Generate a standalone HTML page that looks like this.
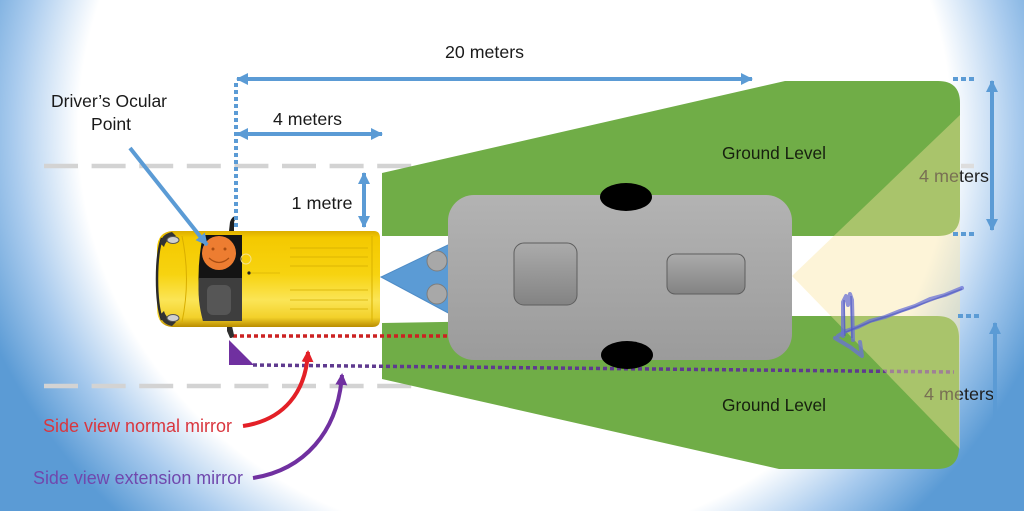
<!DOCTYPE html>
<html><head><meta charset="utf-8">
<style>
html,body{margin:0;padding:0;}
body{width:1024px;height:511px;overflow:hidden;background:radial-gradient(590px 560px at 515px 130px,#ffffff 74%,#a9cbee 85%,#5b9bd5 96%);}
svg{display:block;}
text{font-family:"Liberation Sans",sans-serif;}
</style></head><body>
<svg width="1024" height="511" viewBox="0 0 1024 511" xmlns="http://www.w3.org/2000/svg">
<defs>
<linearGradient id="tg" x1="0" y1="0" x2="0" y2="1">
<stop offset="0" stop-color="#b3b3b3"/><stop offset="1" stop-color="#9b9b9b"/>
</linearGradient>
<linearGradient id="wg" x1="0" y1="0" x2="0" y2="1">
<stop offset="0" stop-color="#ababab"/><stop offset="1" stop-color="#838383"/>
</linearGradient>
<linearGradient id="vy" x1="0" y1="0" x2="0" y2="1">
<stop offset="0" stop-color="#dcae00"/><stop offset="0.07" stop-color="#f4c900"/>
<stop offset="0.45" stop-color="#f7d310"/><stop offset="0.72" stop-color="#fbe556"/>
<stop offset="0.9" stop-color="#f3d12a"/><stop offset="1" stop-color="#b98c00"/>
</linearGradient>
<marker id="ab" viewBox="0 0 12 12" refX="11" refY="6" markerWidth="12" markerHeight="12" markerUnits="userSpaceOnUse" orient="auto-start-reverse"><path d="M0,0 L12,6 L0,12 z" fill="#5b9bd5"/></marker>
<marker id="ar" viewBox="0 0 12 12" refX="10" refY="6" markerWidth="12" markerHeight="12" markerUnits="userSpaceOnUse" orient="auto"><path d="M0,0 L12,6 L0,12 z" fill="#e32027"/></marker>
<marker id="ap" viewBox="0 0 12 12" refX="10" refY="6" markerWidth="12" markerHeight="12" markerUnits="userSpaceOnUse" orient="auto"><path d="M0,0 L12,6 L0,12 z" fill="#7030a0"/></marker>
</defs>

<!-- lane dashes -->
<line x1="44" y1="166" x2="412" y2="166" stroke="#d3d3d3" stroke-width="4.5" stroke-dasharray="34 13.6"/>
<line x1="44" y1="386" x2="412" y2="386" stroke="#d3d3d3" stroke-width="4.5" stroke-dasharray="34 13.6"/>
<line x1="961" y1="166" x2="974" y2="166" stroke="#dddddd" stroke-width="4.5"/>

<!-- white box behind van -->
<rect x="155" y="224" width="228" height="120" fill="#ffffff"/>

<!-- green zones -->
<path d="M382,173 L785,81 L938,81 Q960,81 960,103 L960,214 Q960,236 938,236 L382,236 Z" fill="#70ad47"/>
<path d="M382,323 L792,316 L937,316 Q959,316 959,338 L959,447 Q959,469 937,469 L779,469 L382,379 Z" fill="#70ad47"/>

<!-- purple dotted line -->
<path d="M253,365 L954,372" stroke="#5f3a8f" stroke-width="3.5" stroke-dasharray="4 3" fill="none"/>

<!-- right labels -->
<text x="919" y="182" font-size="17.5" fill="#1e1e1e" textLength="70" lengthAdjust="spacingAndGlyphs">4 meters</text>
<text x="924" y="400" font-size="17.5" fill="#1e1e1e" textLength="70" lengthAdjust="spacingAndGlyphs">4 meters</text>

<!-- light overlay cone -->
<polygon points="792,276 960,115 960,449" fill="#fae4a0" fill-opacity="0.41"/>

<!-- Ground level labels -->
<text x="774" y="159" font-size="17.5" fill="#17200f" text-anchor="middle" textLength="104" lengthAdjust="spacingAndGlyphs">Ground Level</text>
<text x="774" y="411" font-size="17.5" fill="#17200f" text-anchor="middle" textLength="104" lengthAdjust="spacingAndGlyphs">Ground Level</text>

<!-- red dotted line -->
<path d="M233,336 L448,336" stroke="#cc2222" stroke-width="3.5" stroke-dasharray="4 3" fill="none"/>

<!-- hitch -->
<polygon points="381,277 452,243 452,315" fill="#5b9bd5" stroke="#4f8cc6" stroke-width="1"/>
<circle cx="437" cy="261" r="10" fill="#a8a8a8" stroke="#7d7d7d" stroke-width="1"/>
<circle cx="437" cy="294" r="10" fill="#a8a8a8" stroke="#7d7d7d" stroke-width="1"/>

<!-- trailer -->
<rect x="448" y="195" width="344" height="165" rx="26" ry="26" fill="url(#tg)"/>
<rect x="514" y="243" width="63" height="62" rx="10" fill="url(#wg)" stroke="#5e5e5e" stroke-width="1"/>
<rect x="667" y="254" width="78" height="40" rx="8" fill="url(#wg)" stroke="#5e5e5e" stroke-width="1"/>
<ellipse cx="626" cy="197" rx="26" ry="14" fill="#000"/>
<ellipse cx="627" cy="355" rx="26" ry="14" fill="#000"/>

<!-- van -->
<path d="M229,231 L230,222 Q232,216 236,216 L236,219 Q234,220 234,224 L234,231 Z" fill="#1e1e1e"/>
<path d="M227,326 L232,326 L234,335 Q234,338 230,338 L227,331 Z" fill="#2e2e2e"/>
<path d="M172,231 L374,231 Q380,231 380,238 L380,320 Q380,327 372,327 L172,327 Q158,326 157,310 L157,248 Q158,232 172,231 Z" fill="url(#vy)"/>
<path d="M162,238 Q157,252 157,279 Q157,306 162,320" stroke="#2a2a2a" stroke-width="2.5" fill="none"/>
<path d="M160,243 Q162,234 172,232 L176,236 Q166,239 164,247 Z" fill="#333"/>
<path d="M160,315 Q162,324 172,326 L176,322 Q166,319 164,311 Z" fill="#333"/>
<ellipse cx="173" cy="240" rx="6" ry="3.5" fill="#d0d0d0" stroke="#555" stroke-width="1"/>
<ellipse cx="173" cy="318" rx="6" ry="3.5" fill="#d0d0d0" stroke="#555" stroke-width="1"/>
<path d="M182,236 Q191,279 182,322" stroke="#d8ae00" stroke-width="1" fill="none"/>
<path d="M203,235 L242,235 L242,321 L203,321 Q194,278 203,235 Z" fill="#141414"/>
<path d="M199,278 L242,278 L242,321 L203,321 Q197,300 199,278 Z" fill="#3e3e3e"/>
<rect x="207" y="285" width="24" height="30" rx="6" fill="#565656"/>
<circle cx="219" cy="253" r="17" fill="#ed7d31"/>
<circle cx="213" cy="249" r="1.5" fill="#a84d12"/>
<circle cx="225" cy="249" r="1.5" fill="#a84d12"/>
<path d="M209,258 Q219,267 229,258" stroke="#a84d12" stroke-width="1.2" fill="none"/>
<circle cx="249" cy="273" r="1.6" fill="#222"/>
<line x1="251" y1="273" x2="280" y2="273" stroke="#c9a400" stroke-width="0.6"/>
<g stroke="#d3ad00" stroke-width="0.7">
<line x1="290" y1="248" x2="368" y2="248"/><line x1="290" y1="257" x2="368" y2="257"/>
<line x1="290" y1="266" x2="368" y2="266"/><line x1="290" y1="290" x2="368" y2="290"/>
<line x1="290" y1="300" x2="368" y2="300"/><line x1="290" y1="309" x2="368" y2="309"/>
</g>
<line x1="372" y1="236" x2="372" y2="322" stroke="#d9b200" stroke-width="1"/>
<circle cx="246" cy="259" r="5" fill="none" stroke="#f5e28a" stroke-width="1"/>

<!-- dotted blue vertical -->
<line x1="236" y1="83" x2="236" y2="230" stroke="#5b9bd5" stroke-width="4" stroke-dasharray="4 3"/>

<!-- blue dimension arrows -->
<line x1="237" y1="79" x2="752" y2="79" stroke="#5b9bd5" stroke-width="4" marker-start="url(#ab)" marker-end="url(#ab)"/>
<line x1="237" y1="134" x2="382" y2="134" stroke="#5b9bd5" stroke-width="4" marker-start="url(#ab)" marker-end="url(#ab)"/>
<line x1="364" y1="173" x2="364" y2="227" stroke="#5b9bd5" stroke-width="4" marker-start="url(#ab)" marker-end="url(#ab)"/>
<line x1="992" y1="81" x2="992" y2="230" stroke="#5b9bd5" stroke-width="4" marker-start="url(#ab)" marker-end="url(#ab)"/>
<line x1="995" y1="323" x2="995" y2="460" stroke="#5b9bd5" stroke-width="4" marker-start="url(#ab)" marker-end="url(#ab)"/>
<line x1="130" y1="148" x2="207" y2="245" stroke="#5b9bd5" stroke-width="4" marker-end="url(#ab)"/>

<!-- right short dotted -->
<g stroke="#5b9bd5" stroke-width="4" stroke-dasharray="5 3">
<line x1="953" y1="79" x2="976" y2="79"/>
<line x1="953" y1="234" x2="976" y2="234"/>
<line x1="958" y1="316" x2="981" y2="316"/>
<line x1="958" y1="470" x2="981" y2="470"/>
</g>

<!-- mirror triangle -->
<polygon points="229,340 229,365 254,365" fill="#7030a0"/>

<!-- curved arrows -->
<path d="M243,426 C284,420 306,392 308,352" stroke="#e32027" stroke-width="4" fill="none" marker-end="url(#ar)"/>
<path d="M253,478 C304,470 338,432 342,375" stroke="#7030a0" stroke-width="4" fill="none" marker-end="url(#ap)"/>

<!-- scribble -->
<g stroke="#6a72d6" stroke-opacity="0.75" stroke-width="4" fill="none" stroke-linejoin="round" stroke-linecap="round">
<path d="M962,288 L945,295 L930,299 L915,306 L900,311 L885,317 L870,321 L858,327 L846,331 L838,336"/>
<path d="M843,336 L843,302 L846,296 L848,305 L850,294 L852,300 L853,340"/>
<path d="M835,338 L850,347 L862,356 L860,342"/>
</g>
<g stroke="#4b55c0" stroke-opacity="0.6" stroke-width="1.5" fill="none">
<path d="M962,289 L930,301 L900,312 L870,322 L846,332"/>
<path d="M845,336 L844,300 M851,296 L852,338"/>
</g>

<!-- labels -->
<text x="484.5" y="58" font-size="17.5" fill="#1a1a1a" text-anchor="middle" textLength="79" lengthAdjust="spacingAndGlyphs">20 meters</text>
<text x="109" y="107" font-size="17.5" fill="#1a1a1a" text-anchor="middle" textLength="116" lengthAdjust="spacingAndGlyphs">Driver’s Ocular</text>
<text x="111" y="130" font-size="17.5" fill="#1a1a1a" text-anchor="middle" textLength="40" lengthAdjust="spacingAndGlyphs">Point</text>
<text x="307.5" y="125" font-size="17.5" fill="#1a1a1a" text-anchor="middle" textLength="69" lengthAdjust="spacingAndGlyphs">4 meters</text>
<text x="322" y="209" font-size="17.5" fill="#1a1a1a" text-anchor="middle" textLength="61" lengthAdjust="spacingAndGlyphs">1 metre</text>
<text x="43" y="432" font-size="18" fill="#d9363e" textLength="189" lengthAdjust="spacingAndGlyphs">Side view normal mirror</text>
<text x="33" y="484" font-size="18" fill="#7048ad" textLength="210" lengthAdjust="spacingAndGlyphs">Side view extension mirror</text>
</svg>
</body></html>
